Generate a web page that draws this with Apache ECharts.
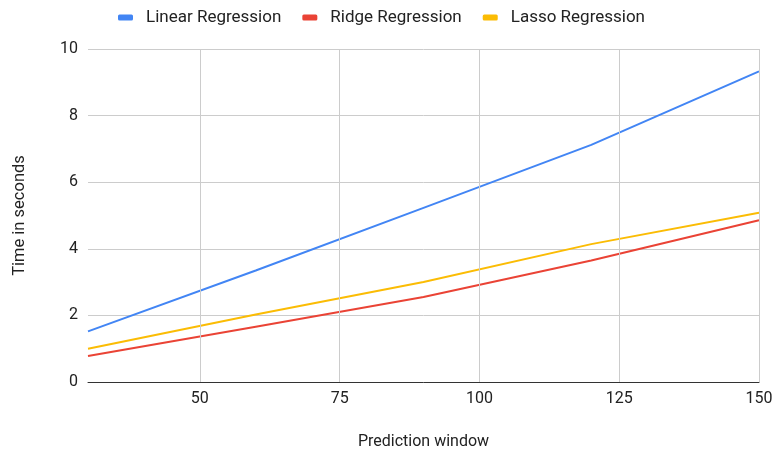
<!DOCTYPE html>
<html>
<head>
<meta charset="utf-8">
<script src="https://cdn.jsdelivr.net/npm/echarts@6/dist/echarts.min.js"></script>
<style>html,body{margin:0;padding:0;background:#fff}#c{width:775px;height:453px}</style>
</head>
<body>
<div id="c"></div>
<script>
const windows = [30, 60, 90, 120, 150];
const linearReg = [1.52, 3.35, 5.23, 7.12, 9.33];
const ridgeReg = [0.78, 1.66, 2.55, 3.65, 4.86];
const lassoReg = [1.00, 2.03, 3.00, 4.14, 5.08];
const xTicks = [50, 75, 100, 125, 150];
const seriesNames = ['Linear Regression', 'Ridge Regression', 'Lasso Regression'];
const colors = ['#4285F4', '#EA4335', '#FBBC04'];

const font = 'Roboto, Arial, sans-serif';
const pair = (ys) => windows.map((x, i) => [x, ys[i]]);

const chart = echarts.init(document.getElementById('c'), null, {renderer: 'canvas'});
chart.setOption({
  animation: false,
  color: colors,
  textStyle: {fontFamily: font},
  legend: {
    top: 4, left: 113,
    itemWidth: 15, itemHeight: 6, itemGap: 21,
    icon: 'roundRect',
    textStyle: {fontSize: 17, color: '#222', fontFamily: font, padding: [0, 0, 0, 8]},
    data: seriesNames
  },
  grid: {left: 88, right: 16, top: 49, bottom: 71, containLabel: false, outerBoundsMode: 'none'},
  xAxis: {
    type: 'value', min: 30, max: 150,
    name: 'Prediction window', nameLocation: 'middle', nameGap: 52,
    nameTextStyle: {fontSize: 16, color: '#222', fontFamily: font},
    axisLine: {show: true, lineStyle: {color: '#333', width: 1}},
    axisTick: {show: false},
    splitLine: {show: false},
    axisLabel: {customValues: xTicks, fontSize: 16, color: '#222', margin: 9, fontFamily: font}
  },
  yAxis: {
    type: 'value', min: 0, max: 10, interval: 2,
    name: 'Time in seconds', nameLocation: 'middle', nameGap: 60,
    nameTextStyle: {fontSize: 16.5, color: '#222', fontFamily: font},
    axisLine: {show: false},
    axisTick: {show: false},
    splitLine: {lineStyle: {color: '#ccc', width: 1}},
    axisLabel: {fontSize: 16, color: '#222', margin: 10, fontFamily: font}
  },
  series: [
    {
      name: seriesNames[0], type: 'line', data: pair(linearReg),
      showSymbol: false, lineStyle: {width: 2}, z: 3,
      markLine: {
        silent: true, symbol: 'none', label: {show: false},
        lineStyle: {color: '#ccc', width: 1, type: 'solid'},
        data: xTicks.map(v => ({xAxis: v}))
      }
    },
    {name: seriesNames[1], type: 'line', data: pair(ridgeReg), showSymbol: false, lineStyle: {width: 2}, z: 3},
    {name: seriesNames[2], type: 'line', data: pair(lassoReg), showSymbol: false, lineStyle: {width: 2}, z: 3}
  ]
});
</script>
</body>
</html>
